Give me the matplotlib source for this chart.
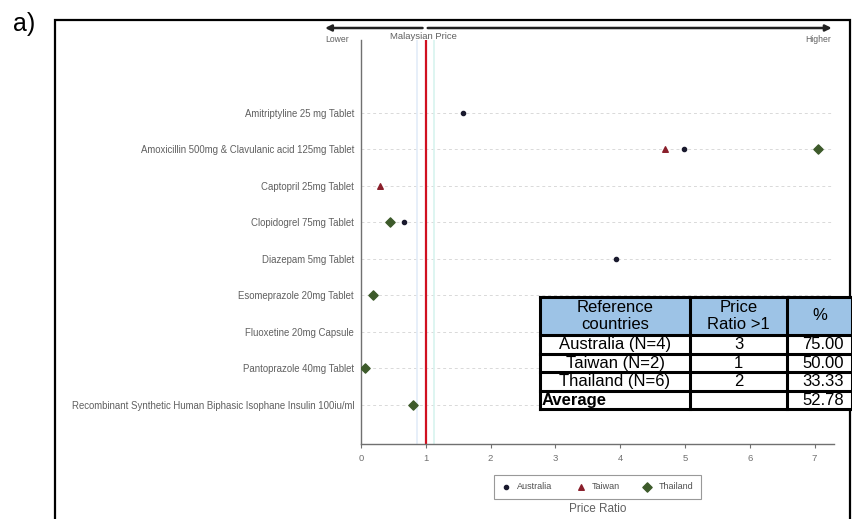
import matplotlib
matplotlib.use("Agg")
import matplotlib.pyplot as plt
from matplotlib.patches import Rectangle

plt.rcParams['font.family'] = ['Liberation Sans', 'DejaVu Sans']

# Medicines on the vertical axis (top to bottom)
drugs = [
    "Amitriptyline 25 mg Tablet",
    "Amoxicillin 500mg & Clavulanic acid 125mg Tablet",
    "Captopril 25mg Tablet",
    "Clopidogrel 75mg Tablet",
    "Diazepam 5mg Tablet",
    "Esomeprazole 20mg Tablet",
    "Fluoxetine 20mg Capsule",
    "Pantoprazole 40mg Tablet",
    "Recombinant Synthetic Human Biphasic Isophane Insulin 100iu/ml",
]

# Price ratio (reference country price / Malaysian price)
australia_drugs = [drugs[0], drugs[1], drugs[3], drugs[4]]
australia_ratio = [1.58, 4.98, 0.66, 3.94]

taiwan_drugs = [drugs[1], drugs[2]]
taiwan_ratio = [4.69, 0.29]

thailand_drugs = [drugs[1], drugs[3], drugs[5], drugs[6], drugs[7], drugs[8]]
thailand_ratio = [7.05, 0.44, 0.18, 4.60, 0.06, 0.80]

# Summary table
table_header = ["Reference\ncountries", "Price\nRatio >1", "%"]
table_country = ["Australia (N=4)", "Taiwan (N=2)", "Thailand (N=6)", "Average"]
table_count = ["3", "1", "2", ""]
table_pct = ["75.00", "50.00", "33.33", "52.78"]

W, H = 852, 519
fig = plt.figure(figsize=(W / 100, H / 100), dpi=100)
fig.patch.set_facecolor("white")

# panel label and frame
fig.text(13 / W, 1 - 24 / H, "a)", fontsize=18, ha="left", va="center")
fig.add_artist(Rectangle((55 / W, -0.05), (850 - 55) / W, 0.05 + 1 - 20 / H,
                         transform=fig.transFigure, fill=False,
                         edgecolor="black", lw=1.6))

ax = fig.add_axes([361 / W, 75 / H, (834 - 361) / W, 404 / H])
ypos = {d: i for i, d in enumerate(drugs)}

gray = "#707070"
for i in range(len(drugs)):
    ax.axhline(i, color="#d9d9d9", lw=0.7, ls=(0, (3, 3)), zorder=1)

# Malaysian price reference line
ax.axvline(0.86, color="#e3ecf8", lw=1.2, zorder=1)
ax.axvline(1.12, color="#d8f3ef", lw=1.2, zorder=1)
ax.axvline(1.0, color="#d01020", lw=1.6, zorder=2)

ax.scatter(australia_ratio, [ypos[d] for d in australia_drugs], marker="o",
           s=9, color="#1a1a2e", zorder=3, label="Australia")
ax.scatter(taiwan_ratio, [ypos[d] for d in taiwan_drugs], marker="^",
           s=16, color="#8a1f2b", zorder=3, label="Taiwan")
ax.scatter(thailand_ratio, [ypos[d] for d in thailand_drugs], marker="D",
           s=22, color="#3d5a2a", zorder=3, label="Thailand")

ax.set_xlim(0, 7.3)
ax.set_ylim(len(drugs) - 1 + 1.07, -2.0)
ax.set_yticks(range(len(drugs)))
ax.set_yticklabels(drugs, fontsize=6.9, color="#606060")
ax.tick_params(axis="y", length=0, pad=5)
ax.set_xticks(range(0, 8))
ax.tick_params(axis="x", length=3, color=gray, labelsize=6.8,
               labelcolor="#707070", pad=4)
for s in ("top", "right"):
    ax.spines[s].set_visible(False)
for s in ("left", "bottom"):
    ax.spines[s].set_color(gray)
    ax.spines[s].set_linewidth(1.0)
ax.set_xlabel("Price Ratio", fontsize=8.5, color="#606060", labelpad=29)

# direction arrows above the plot
ya = 1 + 12 / 404
ax.annotate("", xy=(-0.555, ya), xytext=(0.95, ya), xycoords=("data", "axes fraction"),
            arrowprops=dict(arrowstyle="-|>", color="#222222", lw=1.8,
                            mutation_scale=9, shrinkA=0, shrinkB=0),
            annotation_clip=False)
ax.annotate("", xy=(7.265, ya), xytext=(1.03, ya), xycoords=("data", "axes fraction"),
            arrowprops=dict(arrowstyle="-|>", color="#222222", lw=1.8,
                            mutation_scale=9, shrinkA=0, shrinkB=0),
            annotation_clip=False)
xt = ax.get_xaxis_transform()
ax.text(-0.55, 1.0, "Lower", transform=xt, fontsize=6.2, color="#606060",
        ha="left", va="center", clip_on=False)
ax.text(0.97, 1.008, "Malaysian Price", transform=xt, fontsize=6.8,
        color="#606060", ha="center", va="center", clip_on=False)
ax.text(7.25, 1.0, "Higher", transform=xt, fontsize=6.2, color="#606060",
        ha="right", va="center", clip_on=False)

leg = ax.legend(loc="upper center", bbox_to_anchor=(0.5, -0.065), ncol=3,
                fontsize=6.5, frameon=True, fancybox=False, edgecolor="#808080",
                handletextpad=0.7, columnspacing=2.6, borderpad=0.85,
                handlelength=1.0, borderaxespad=0.5)
leg.get_frame().set_linewidth(0.8)
for t in leg.get_texts():
    t.set_color("#505050")

# summary table drawn on top of the plot
tx0, tx1, ty0, ty1 = 540, 852, 297, 410
tax = fig.add_axes([tx0 / W, 1 - ty1 / H, (tx1 - tx0) / W, (ty1 - ty0) / H], zorder=5)
tax.set_xlim(tx0, tx1)
tax.set_ylim(ty1, ty0)
tax.axis("off")
col_edges = [540, 690, 787, 852]
row_edges = [297, 335, 354, 372, 391, 409]
tax.add_patch(Rectangle((540, 297), 852 - 540, 409 - 297, facecolor="white",
                        edgecolor="none", zorder=1))
tax.add_patch(Rectangle((540, 297), 852 - 540, 335 - 297, facecolor="#9dc3e6",
                        edgecolor="none", zorder=1))
for x in col_edges:
    tax.plot([x, x], [297, 409], color="black", lw=2.2, zorder=3,
             solid_capstyle="projecting", clip_on=False)
for y in row_edges:
    tax.plot([540, 852], [y, y], color="black", lw=2.2, zorder=3,
             solid_capstyle="projecting", clip_on=False)

fs = 12
for j, txt in enumerate(table_header):
    xc = (col_edges[j] + col_edges[j + 1]) / 2
    tax.text(xc, (297 + 335) / 2, txt, ha="center", va="center", fontsize=fs,
             linespacing=1.15, zorder=2)
for i in range(len(table_country)):
    yc = (row_edges[i + 1] + row_edges[i + 2]) / 2 + 0.3
    if table_country[i] == "Average":
        tax.text(542, yc, table_country[i], ha="left", va="center",
                 fontsize=fs, fontweight="bold", zorder=2)
    else:
        tax.text((col_edges[0] + col_edges[1]) / 2, yc, table_country[i],
                 ha="center", va="center", fontsize=fs, zorder=2)
    tax.text((col_edges[1] + col_edges[2]) / 2, yc, table_count[i],
             ha="center", va="center", fontsize=fs, zorder=2)
    tax.text(844, yc, table_pct[i], ha="right", va="center", fontsize=fs, zorder=2)

fig.savefig("out.png", dpi=100)
